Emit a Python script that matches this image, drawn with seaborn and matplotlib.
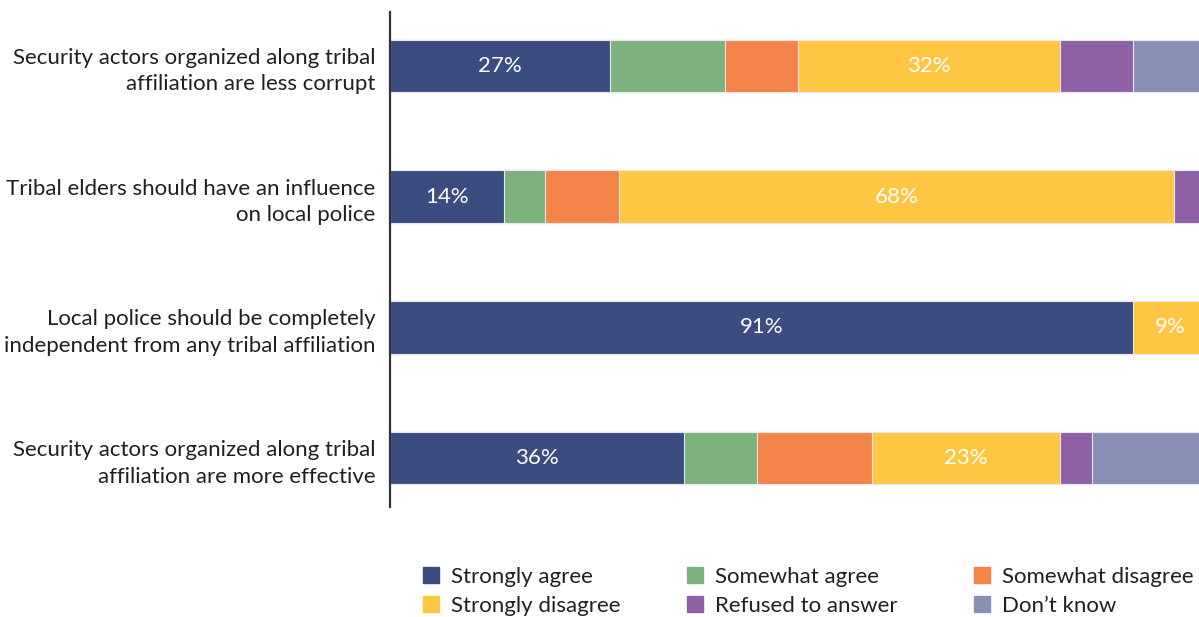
import matplotlib
matplotlib.use("Agg")
import matplotlib.pyplot as plt
import matplotlib.patches as mpatches
import seaborn as sns
import numpy as np
import pandas as pd

# Statements (y categories)
statements = [
    "Security actors organized along tribal\naffiliation are less corrupt",
    "Tribal elders should have an influence\non local police",
    "Local police should be completely\nindependent from any tribal affiliation",
    "Security actors organized along tribal\naffiliation are more effective",
]

# Response shares (%), one list per answer
strongly_agree = [27, 14, 91, 36]
somewhat_agree = [14, 5, 0, 9]
somewhat_disagree = [9, 9, 0, 14]
strongly_disagree = [32, 68, 9, 23]
refused = [9, 4, 0, 4]
dont_know = [9, 0, 0, 14]

answers = ["Strongly agree", "Somewhat agree", "Somewhat disagree",
           "Strongly disagree", "Refused to answer", "Don\u2019t know"]
colors = ["#3B4D80", "#7DB27F", "#F5844A", "#FFC643", "#8E61A7", "#898FB5"]
labelled = {"Strongly agree", "Strongly disagree"}

sns.set_theme(style="white")
plt.rcParams["font.family"] = ["Lato", "DejaVu Sans"]
text_color = "#231F20"
fs = 16

values = pd.DataFrame(
    [strongly_agree, somewhat_agree, somewhat_disagree,
     strongly_disagree, refused, dont_know],
    index=answers, columns=statements,
)
cum = values.cumsum()

fig = plt.figure(figsize=(11.99, 6.17), dpi=100)
ax = fig.add_axes([390 / 1199, (617 - 507) / 617, 816.5 / 1199, 495 / 617])

# draw cumulative totals from the back so each segment shows as a stack
for ans, col in reversed(list(zip(answers, colors))):
    df = pd.DataFrame({"statement": statements, "total": cum.loc[ans].values})
    sns.barplot(data=df, x="total", y="statement", orient="h", color=col,
                width=0.4, saturation=1, edgecolor="#E8E8EE", linewidth=0.8,
                ax=ax)

# percentage labels on the two main segments
for i, st in enumerate(statements):
    for ans in answers:
        if ans in labelled and values.loc[ans, st] > 0:
            end = cum.loc[ans, st]
            mid = end - values.loc[ans, st] / 2
            ax.text(mid, i, f"{values.loc[ans, st]}%", ha="center",
                    va="center", color="white", fontsize=fs)

ax.set_xlim(0, 100)
ax.set_ylim(3.374, -0.412)
ax.set_xlabel("")
ax.set_ylabel("")
ax.set_xticks([])
ax.tick_params(axis="y", length=0, pad=10.5, labelsize=fs, labelcolor=text_color)
for lab in ax.get_yticklabels():
    lab.set_horizontalalignment("right")
    lab.set_multialignment("right")
    lab.set_linespacing(1.4)
for side in ["top", "right", "bottom"]:
    ax.spines[side].set_visible(False)
ax.spines["left"].set_color("#333333")
ax.spines["left"].set_linewidth(1.6)

# legend: three columns of two entries, each placed on its own
handles = [mpatches.Patch(color=c, label=a) for a, c in zip(answers, colors)]
columns = [([0, 3], 423), ([1, 4], 687), ([2, 5], 974)]
for idx, x0 in columns:
    fig.legend([handles[k] for k in idx], [answers[k] for k in idx],
               ncol=1, loc="upper left",
               bbox_to_anchor=(x0 / 1199, 1 - 567 / 617),
               frameon=False, fontsize=fs, handlelength=0.73,
               handleheight=0.73, handletextpad=0.55, labelspacing=0.4,
               borderpad=0, borderaxespad=0, labelcolor=text_color)

fig.savefig("out.png", dpi=100)
